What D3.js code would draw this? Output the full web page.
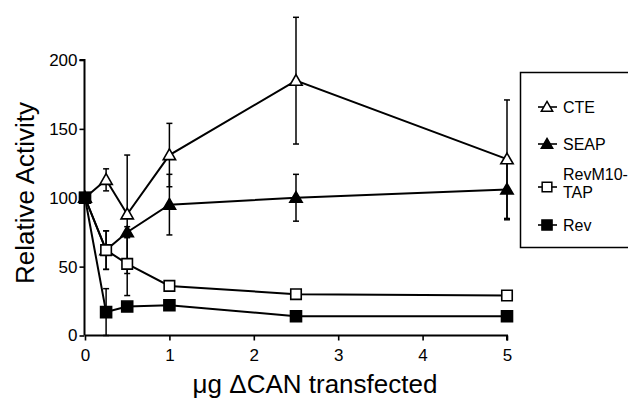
<!DOCTYPE html>
<html><head><meta charset="utf-8">
<script src="https://cdn.jsdelivr.net/npm/d3@7"></script>
<style>body{margin:0;background:#fff}svg{display:block}text{font-family:"Liberation Sans",Arial,sans-serif;fill:#000}</style>
</head><body><svg id="c" width="628" height="399"></svg>
<script>
const doses = [0, 0.25, 0.5, 1, 2.5, 5];
const cteVals = [100, 113, 88, 131, 185, 128];
const cteErr = [0, 8, 43, 23, 46, 43];
const seapVals = [100, 62, 75, 95, 100, 106];
const seapErr = [0, 14, 4, 22, 17, 22];
const revm10Vals = [100, 62, 52, 36, 30, 29];
const revm10Err = [0, 14, 23, 0, 0, 0];
const revVals = [100, 17, 21, 22, 14, 14];
const revErr = [0, 17, 0, 0, 0, 0];
const xTicks = [0, 1, 2, 3, 4, 5];
const yTicks = [0, 50, 100, 150, 200];
const legendLabels = [["CTE"], ["SEAP"], ["RevM10-", "TAP"], ["Rev"]];

const series = [
  {vals: cteVals, err: cteErr, sym: d3.symbolTriangle, fill: "#fff", size: 66},
  {vals: seapVals, err: seapErr, sym: d3.symbolTriangle, fill: "#000", size: 66},
  {vals: revm10Vals, err: revm10Err, sym: d3.symbolSquare, fill: "#fff", size: 110},
  {vals: revVals, err: revErr, sym: d3.symbolSquare, fill: "#000", size: 121}
];

const svg = d3.select("#c");
const x = d3.scaleLinear().domain([0, 5]).range([85, 507]);
const y = d3.scaleLinear().domain([0, 200]).range([335.5, 60]);

// axes
const gx = svg.append("g").attr("transform", "translate(0,335.5)")
  .call(d3.axisBottom(x).tickValues(xTicks).tickSize(5).tickPadding(8).tickFormat(d3.format("d")));
const gy = svg.append("g").attr("transform", "translate(84.5,0)")
  .call(d3.axisLeft(y).tickValues(yTicks).tickSize(5).tickPadding(2).tickFormat(d3.format("d")));
[gx, gy].forEach(g => {
  g.select(".domain").attr("stroke", "#000").attr("stroke-width", 2);
  g.selectAll(".tick line").attr("stroke", "#000").attr("stroke-width", 1.6);
  g.selectAll("text").attr("font-size", 17).attr("font-family", "Liberation Sans, Arial, sans-serif");
});
gy.select(".domain").attr("d", `M-5,${y(200)}H0V${y(0)}`);
gx.select(".domain").attr("d", `M${x(0)},0H${x(5)}V5`);

// lines
const line = d3.line().x((d, i) => x(doses[i])).y(d => y(d));
series.forEach(s => {
  svg.append("path").attr("d", line(s.vals)).attr("fill", "none")
    .attr("stroke", "#000").attr("stroke-width", 2);
});
// error bars
series.forEach(s => {
  s.vals.forEach((v, i) => {
    const e = s.err[i];
    if (!e) return;
    const cx = x(doses[i]);
    const g = svg.append("g").attr("stroke", "#000").attr("stroke-width", 1.5);
    g.append("line").attr("x1", cx).attr("x2", cx).attr("y1", y(v + e)).attr("y2", y(Math.max(0, v - e)));
    [v + e, Math.max(0, v - e)].forEach(t => g.append("line").attr("x1", cx - 3).attr("x2", cx + 3).attr("y1", y(t)).attr("y2", y(t)));
  });
});
// markers
series.forEach(s => {
  svg.append("g").selectAll("path").data(s.vals).join("path")
    .attr("transform", (d, i) => `translate(${x(doses[i])},${y(d) + (s.sym === d3.symbolTriangle ? 1 : 0)})`)
    .attr("d", d3.symbol().type(s.sym).size(s.size))
    .attr("fill", s.fill).attr("stroke", "#000").attr("stroke-width", 1.6);
});

// axis titles
svg.append("text").attr("x", 315).attr("y", 393).attr("text-anchor", "middle")
  .attr("font-size", 26).text("\u03bcg \u0394CAN transfected");
svg.append("text").attr("transform", "translate(34,193) rotate(-90)").attr("text-anchor", "middle")
  .attr("font-size", 26).text("Relative Activity");

// legend
svg.append("rect").attr("x", 520.5).attr("y", 72.5).attr("width", 130).attr("height", 175)
  .attr("fill", "none").attr("stroke", "#000").attr("stroke-width", 1.5);
const legY = [107, 144, 187, 225];
legendLabels.forEach((lab, i) => {
  const s = series[i];
  svg.append("line").attr("x1", 538).attr("x2", 557).attr("y1", legY[i]).attr("y2", legY[i])
    .attr("stroke", "#000").attr("stroke-width", 1.6);
  svg.append("path").attr("transform", `translate(547,${legY[i] + (s.sym === d3.symbolTriangle ? 1 : 0)})`)
    .attr("d", d3.symbol().type(s.sym).size(s.size * 0.85))
    .attr("fill", s.fill).attr("stroke", "#000").attr("stroke-width", 1.5);
  if (lab.length === 1) {
    svg.append("text").attr("x", 563).attr("y", legY[i] + 6).attr("font-size", 16).text(lab[0]);
  } else {
    svg.append("text").attr("x", 563).attr("y", legY[i] - 7).attr("font-size", 16).text(lab[0]);
    svg.append("text").attr("x", 563).attr("y", legY[i] + 11).attr("font-size", 16).text(lab[1]);
  }
});
</script></body></html>
